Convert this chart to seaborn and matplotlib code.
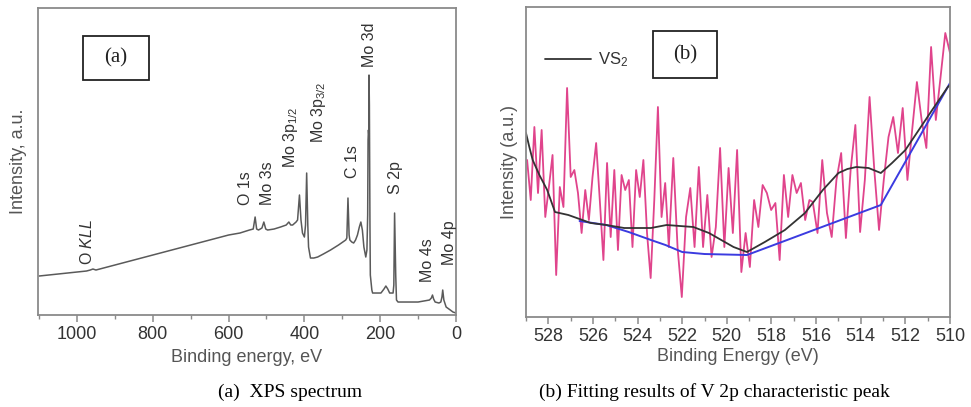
import numpy as np
import pandas as pd
import matplotlib
matplotlib.use("Agg")
import matplotlib.pyplot as plt
from matplotlib.patches import Rectangle
from matplotlib.ticker import MultipleLocator
import seaborn as sns

# ---------------- data: panel (a) XPS survey spectrum ----------------
xps_energy = [1100, 1050, 1000, 975, 965, 958, 950, 900, 850, 800, 750, 700, 650, 600,
              570, 545, 535, 530, 526, 521, 512, 507, 502, 497, 480, 463, 448, 441, 436,
              431, 422, 418, 413, 409, 405, 400, 397, 394, 391, 389, 384, 375, 365, 350,
              331, 310, 291, 288, 285, 282, 280, 275, 270, 265, 260, 255, 251, 247, 243,
              238, 235, 233, 232, 231, 230, 229.5, 228.5, 227, 226, 222, 220, 210, 198,
              190, 185, 180, 175, 166, 164, 162, 159, 157, 153, 130, 100, 85, 70, 65,
              62, 59, 55, 45, 40, 37, 35, 32, 26, 15, 8, 0]
xps_intensity = [39, 41, 43, 44, 45, 46, 45, 50, 55, 60, 65, 70, 75, 80,
                 82, 85, 86, 98, 86, 85, 87, 93, 86, 85, 86, 88, 90, 93, 90,
                 90, 93, 95, 120, 95, 82, 78, 90, 142, 90, 68, 57, 57, 58, 61,
                 65, 70, 75, 77, 117, 80, 75, 73, 72, 75, 80, 88, 93, 85, 68,
                 58, 65, 100, 175, 185, 180, 240, 210, 90, 40, 25, 22, 22, 22,
                 26, 29, 26, 22, 22, 30, 102, 40, 15, 13, 13, 13, 14, 15, 17,
                 20, 16, 13, 12, 13, 18, 25, 15, 8, 5, 3, 2]
xps_ticks = [1000, 800, 600, 400, 200, 0]

peak_labels = ["O $\\mathit{KLL}$", "O 1s", "Mo 3s", "Mo 3p$_{1/2}$", "Mo 3p$_{3/2}$",
               "C 1s", "Mo 3d", "S 2p", "Mo 4s", "Mo 4p"]
peak_label_e = [973, 556, 497, 437, 362, 272, 228, 159, 74, 18]
peak_label_i = [73, 127, 132, 178, 203, 153, 270, 137, 55, 72]

# ---------------- data: panel (b) V 2p region ----------------
raw_seg1 = [157, 117, 190, 124, 187, 100, 130, 162, 42, 130, 110, 229, 140, 147, 124,
            84, 127, 97, 140, 174, 117, 57, 154, 80, 147, 67, 142, 127, 137, 70,
            147, 120, 157, 84, 39, 117, 210, 100, 134, 70]
raw_seg2 = [159, 70, 20, 100, 129, 70, 150, 70, 122, 60, 90, 169, 70, 149, 84,
            167, 45, 84, 50, 117, 90, 132, 124, 107, 114, 57, 142, 100, 142, 124,
            134, 97, 117]
raw_seg3 = [115, 84, 157, 104, 80, 137, 164, 79, 147, 192, 85, 137, 220, 147, 87,
            137, 180, 200, 164, 209, 137, 187, 235, 197, 169, 270, 197, 240, 284, 264]
raw_energy = np.concatenate([np.linspace(528.95, 522.6, len(raw_seg1)),
                             np.linspace(522.4, 516.3, len(raw_seg2)),
                             np.linspace(516.15, 510.0, len(raw_seg3))])
raw_intensity = raw_seg1 + raw_seg2 + raw_seg3

fit_energy = [529.0, 528.85, 528.7, 528.4, 528.05, 527.7, 527.1, 526.1, 525.4, 524.6,
              523.4, 522.7, 521.5, 520.8, 519.7, 519.1, 518.3, 517.4, 516.5, 515.7,
              515.0, 514.6, 514.2, 513.65, 513.1, 512.6, 512.0, 511.4, 510.8, 510.1,
              510.0]
fit_intensity = [184, 170, 157, 142, 127, 105, 102, 94, 92, 89,
                 89, 92, 90, 84, 70, 65, 75, 87, 104, 127,
                 144, 148, 150, 149, 144, 154, 167, 187, 207, 230,
                 232]

bg_energy = [526.6, 525.4, 524.4, 523.4, 522.75, 522.0, 521.0, 519.1, 513.1, 510.0]
bg_intensity = [96, 92, 85, 77, 72, 65, 63, 62, 112, 234]
b_ticks = [528, 526, 524, 522, 520, 518, 516, 514, 512, 510]

# ---------------- style ----------------
sns.set_theme(style="white")
plt.rcParams["font.family"] = ["Liberation Sans", "DejaVu Sans"]
plt.rcParams["mathtext.fontset"] = "custom"
plt.rcParams["mathtext.rm"] = "Liberation Sans"
plt.rcParams["mathtext.it"] = "Liberation Sans:italic"

frame_c = "#8a8a8a"

fig = plt.figure(figsize=(9.71, 4.07), dpi=100)
ax1 = fig.add_axes([0.0391, 0.2260, 0.4305, 0.7543])
ax2 = fig.add_axes([0.5417, 0.2211, 0.4367, 0.7617])

def style_axis(ax):
    for s in ax.spines.values():
        s.set_color(frame_c)
        s.set_linewidth(1.3)
    ax.tick_params(axis="x", which="major", direction="out", length=5, width=1.1,
                   color=frame_c, labelsize=13, labelcolor="#333333", pad=3,
                   bottom=True)
    ax.tick_params(axis="x", which="minor", direction="out", length=3, width=1.0,
                   color=frame_c, bottom=True)
    ax.tick_params(axis="y", left=False, labelleft=False)
    ax.grid(False)

# ---------------- panel (a) ----------------
df_a = pd.DataFrame({"energy": xps_energy, "intensity": xps_intensity})
sns.lineplot(data=df_a, x="energy", y="intensity", ax=ax1, color="#5a5a5a",
             linewidth=1.1, estimator=None, sort=False)
ax1.set_xlim(1103, 0)
ax1.set_ylim(0, 307)
ax1.set_xticks(xps_ticks)
ax1.set_xticklabels([str(t) for t in xps_ticks])
ax1.xaxis.set_minor_locator(MultipleLocator(100))
style_axis(ax1)
ax1.set_xlabel("Binding energy, eV", fontsize=13, color="#555555", labelpad=4)
ax1.set_ylabel("Intensity, a.u.", fontsize=13, color="#555555", labelpad=8)

for lab, e, i in zip(peak_labels, peak_label_e, peak_label_i):
    ax1.text(e, i, lab, rotation=90, ha="center", va="center", fontsize=11.5,
             color="#333333")

ax1.add_patch(Rectangle((0.1077, 0.7655), 0.158, 0.1433, transform=ax1.transAxes,
                        fill=False, edgecolor="#222222", linewidth=1.3))
ax1.text(0.1866, 0.837, "(a)", transform=ax1.transAxes, ha="center", va="center",
         fontsize=15, family=["Liberation Serif"], color="#222222")

# ---------------- panel (b) ----------------
df_raw = pd.DataFrame({"energy": raw_energy, "intensity": raw_intensity})
df_fit = pd.DataFrame({"energy": fit_energy, "intensity": fit_intensity})
df_bg = pd.DataFrame({"energy": bg_energy, "intensity": bg_intensity})
sns.lineplot(data=df_raw, x="energy", y="intensity", ax=ax2, color="#e0448c",
             linewidth=1.3, estimator=None, sort=False)
sns.lineplot(data=df_bg, x="energy", y="intensity", ax=ax2, color="#3b3be0",
             linewidth=1.4, estimator=None, sort=False)
sns.lineplot(data=df_fit, x="energy", y="intensity", ax=ax2, color="#333333",
             linewidth=1.3, estimator=None, sort=False, label="VS$_2$")
ax2.set_xlim(529.0, 510.0)
ax2.set_ylim(0, 310)
ax2.set_xticks(b_ticks)
ax2.set_xticklabels([str(t) for t in b_ticks])
ax2.xaxis.set_minor_locator(MultipleLocator(1))
style_axis(ax2)
ax2.set_xlabel("Binding Energy (eV)", fontsize=13, color="#555555", labelpad=2)
ax2.set_ylabel("Intensity (a.u.)", fontsize=13, color="#555555", labelpad=6)

fit_line = ax2.get_lines()[-1]
leg = ax2.legend(handles=[fit_line], labels=["VS$_2$"], loc="center left",
                 bbox_to_anchor=(0.0448, 0.829), frameon=False, fontsize=12,
                 handlelength=2.75, handletextpad=0.45, borderaxespad=0,
                 borderpad=0)
for t in leg.get_texts():
    t.set_color("#333333")

ax2.add_patch(Rectangle((0.2995, 0.771), 0.151, 0.1516, transform=ax2.transAxes,
                        fill=False, edgecolor="#222222", linewidth=1.3))
ax2.text(0.375, 0.847, "(b)", transform=ax2.transAxes, ha="center", va="center",
         fontsize=15, family=["Liberation Serif"], color="#222222")

# ---------------- captions ----------------
fig.text(0.299, 0.037, "(a)  XPS spectrum", ha="center", va="center",
         fontsize=14, family=["Liberation Serif"], color="black")
fig.text(0.736, 0.037, "(b) Fitting results of V 2p characteristic peak",
         ha="center", va="center", fontsize=14, family=["Liberation Serif"],
         color="black")

fig.savefig("out.png", dpi=100)
